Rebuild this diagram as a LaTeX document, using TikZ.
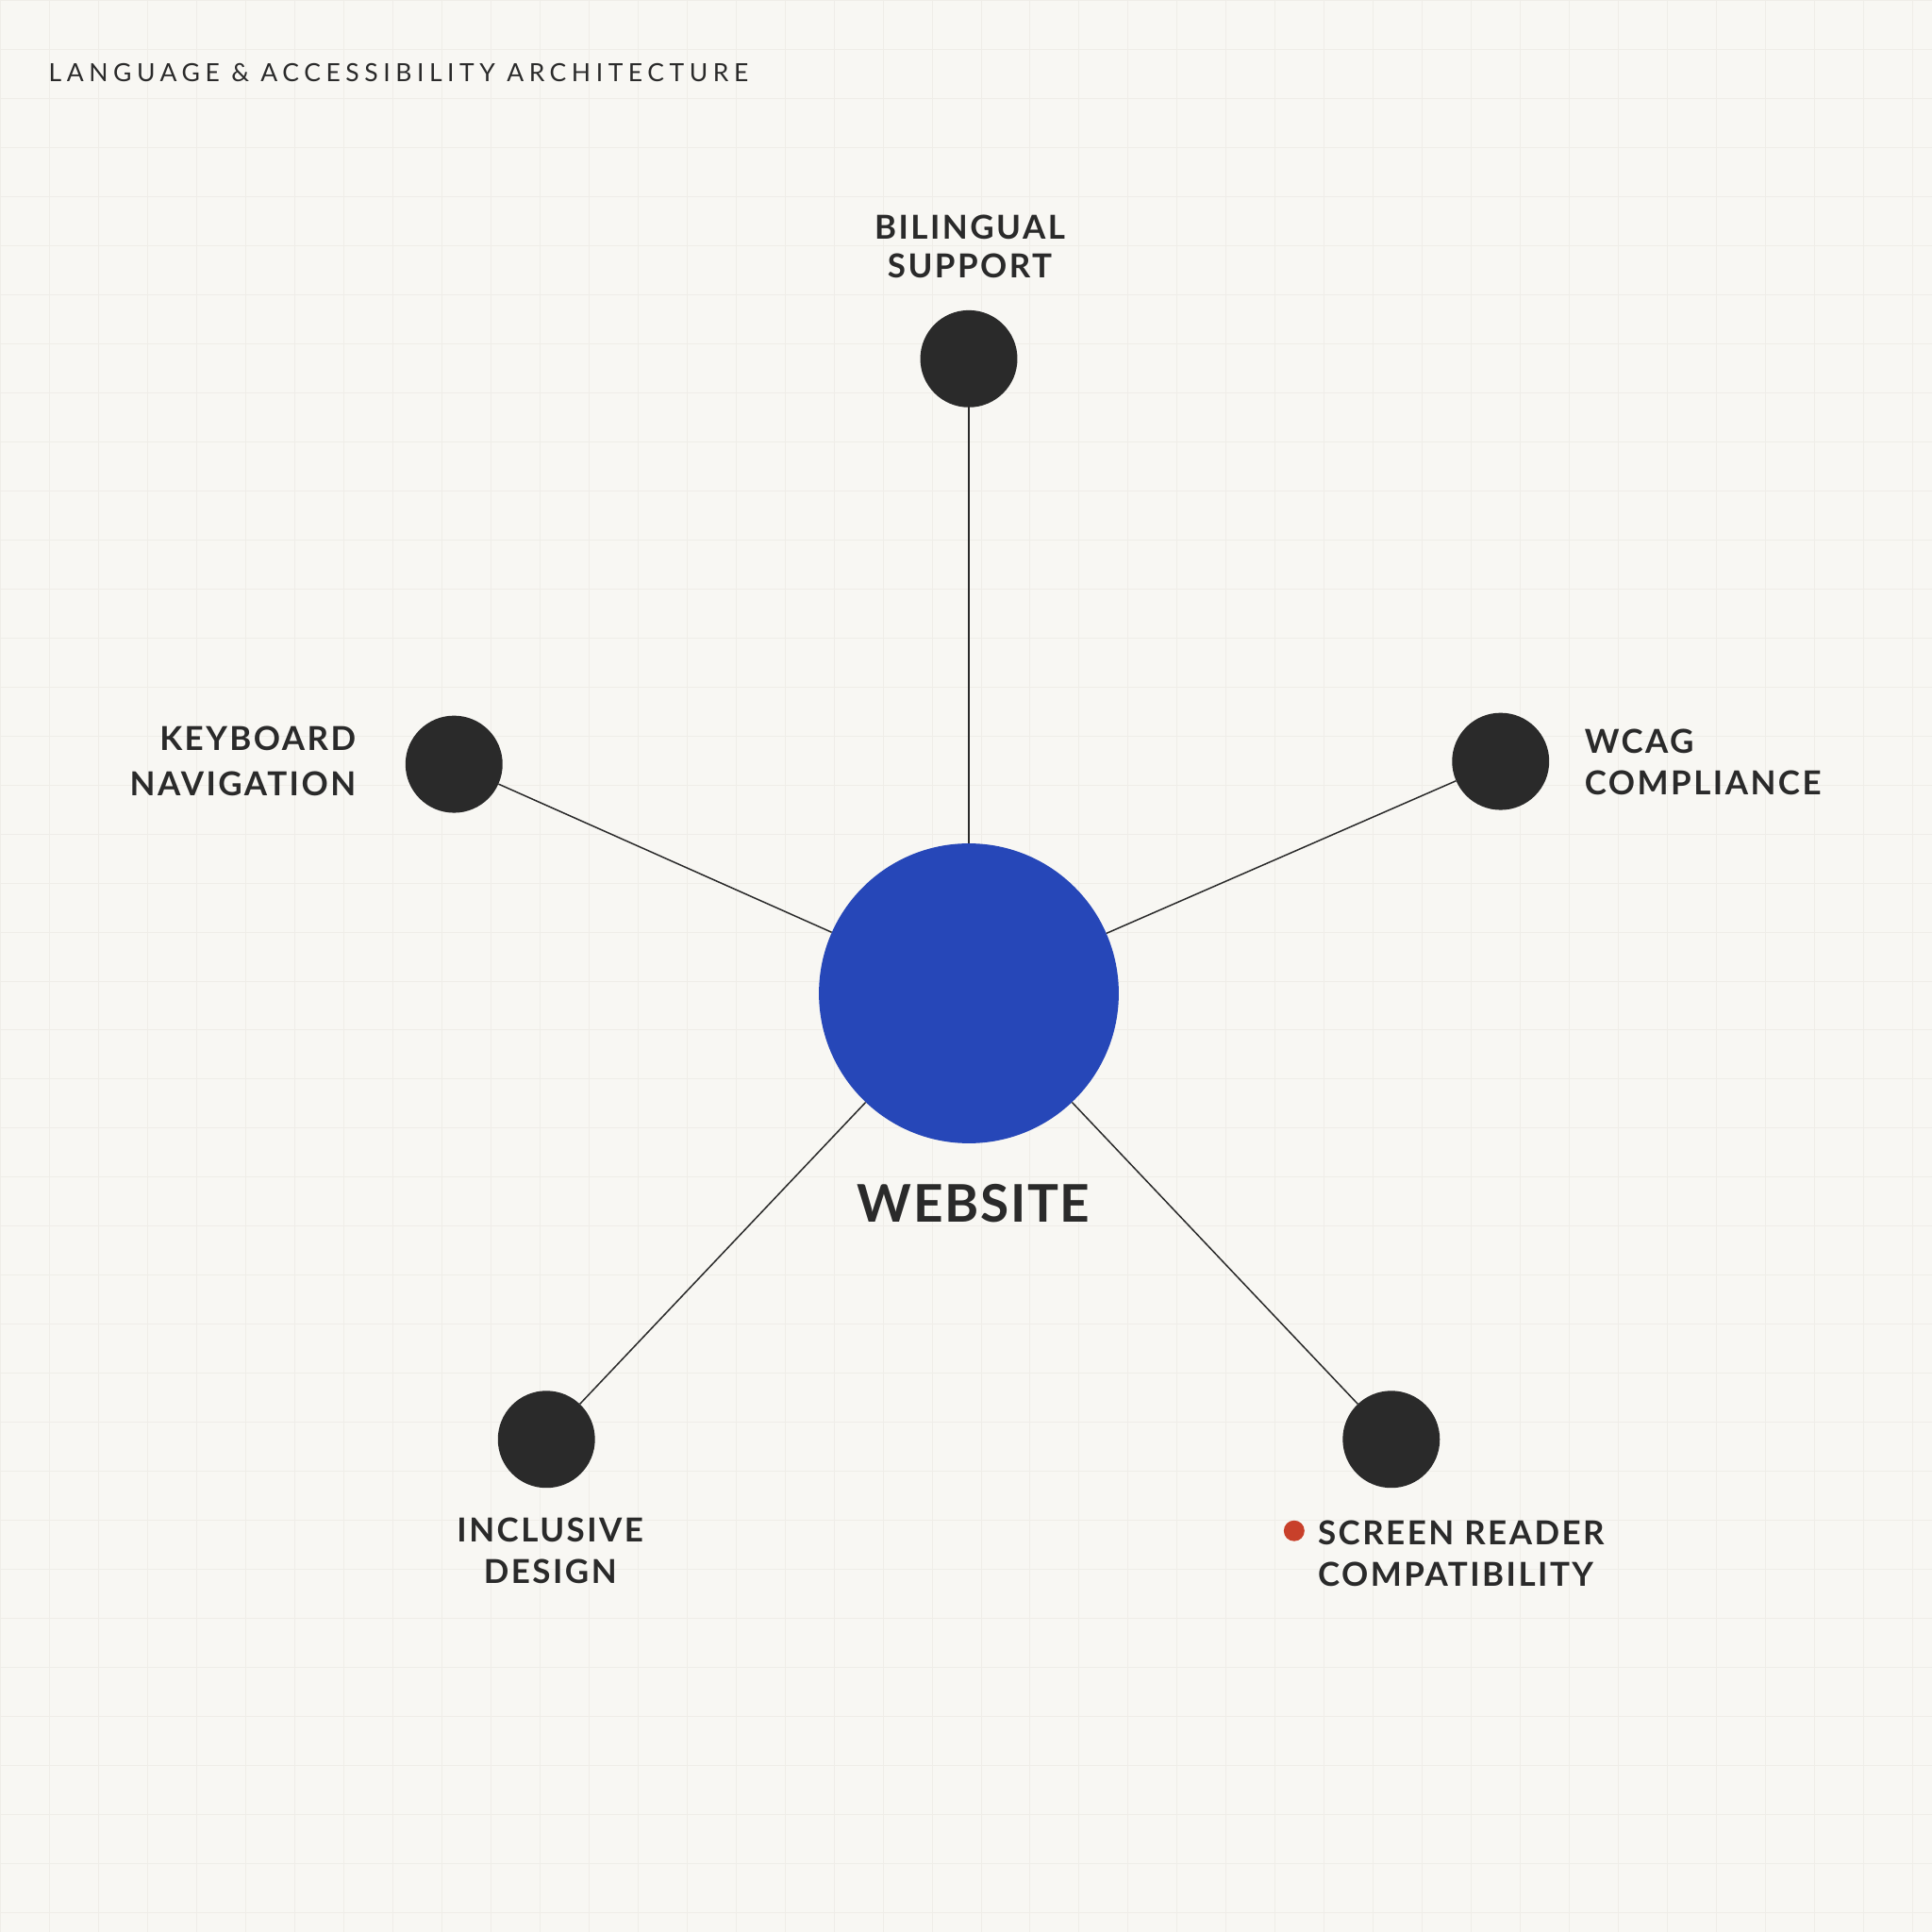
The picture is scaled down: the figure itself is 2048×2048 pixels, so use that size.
\documentclass[tikz,border=0pt]{standalone}
\usepackage{fontspec}
\setmainfont{Lato}
\newfontfamily\tagfont[LetterSpace=7]{Lato}
\newfontfamily\hubfont[LetterSpace=3]{Lato}
\newfontfamily\headfont[LetterSpace=21]{Lato}
\usetikzlibrary{positioning}

\definecolor{paper}{HTML}{F8F7F3}
\definecolor{gridtone}{HTML}{EFEDE8}
\definecolor{ink}{HTML}{2A2A2A}
\definecolor{hubblue}{HTML}{2647B8}
\definecolor{flagred}{HTML}{C8402A}

\tikzset{
  leaf/.style={circle,fill=ink,minimum size=103pt,inner sep=0pt},
  hub/.style={circle,fill=hubblue,minimum size=318pt,inner sep=0pt},
  tag/.style={font=\tagfont\bfseries\fontsize{35}{44}\selectfont,text=ink,inner sep=0pt},
  spoke/.style={draw=ink,line width=1.5pt}
}

\begin{document}
\begin{tikzpicture}[x=1pt,y=-1pt]
% paper and faint grid
\fill[paper] (0,0) rectangle (2048,2048);
\draw[gridtone,line width=1pt,step=52pt] (0,0) grid (2048,2048);
\useasboundingbox (0,0) rectangle (2048,2048);

\node[anchor=north west,inner sep=0pt,text=ink,font=\headfont\fontsize{26.5}{30}\selectfont] (title) at (51,67) {LANGUAGE \& ACCESSIBILITY ARCHITECTURE};

% hub and leaves
\node[hub] (web) at (1027,1053) {};
\node[leaf] (bil) at (1027,380) {};
\node[leaf] (kbd) at (481,810) {};
\node[leaf] (wcag) at (1591,807) {};
\node[leaf] (incl) at (579,1526) {};
\node[leaf] (scr) at (1475,1526) {};

% labels
\node[tag,anchor=north,align=center,font=\hubfont\bfseries\fontsize{55}{60}\selectfont] (webl) at (1032,1255) {WEBSITE};
\node[tag,anchor=north,align=center] (bill) at (1028,227) {BILINGUAL\\[-3pt]SUPPORT};
\node[tag,anchor=north east,align=right] (kbdl) at (377,770) {KEYBOARD\\[4pt]NAVIGATION};
\node[tag,anchor=north west,align=left] (wcagl) at (1680,773) {WCAG\\COMPLIANCE};
\node[tag,anchor=north,align=center] (incll) at (583,1609) {INCLUSIVE\\DESIGN};
\node[tag,anchor=north west,align=left] (scrl) at (1397,1612) {SCREEN READER\\COMPATIBILITY};
\node[circle,fill=flagred,minimum size=22pt,inner sep=0pt] (flag) at (1372,1623) {};

% spokes
\draw[spoke] (web) -- (bil);
\draw[spoke] (web) -- (kbd);
\draw[spoke] (web) -- (wcag);
\draw[spoke] (web) -- (incl);
\draw[spoke] (web) -- (scr);
\end{tikzpicture}
\end{document}
